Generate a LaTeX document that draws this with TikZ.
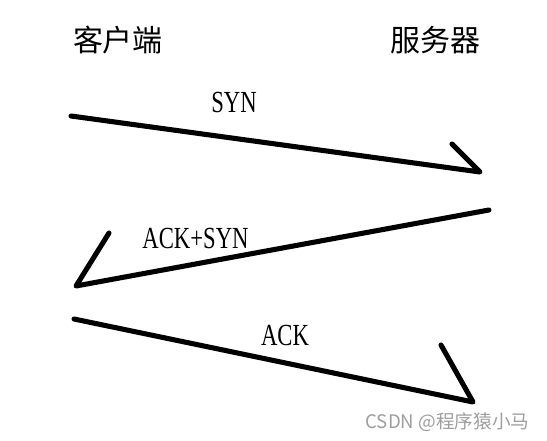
\documentclass[tikz,border=0pt]{standalone}
\usepackage{fontspec}
\setmainfont{Liberation Serif}
\newfontfamily\cjk{Noto Sans CJK SC}
\begin{document}
\begin{tikzpicture}[x=0.75pt,y=-0.75pt,
  msg/.style={line width=3.8pt,line cap=round,line join=round},
  party/.style={inner sep=0pt,font=\cjk\fontsize{22.5}{22.5}\selectfont},
  lbl/.style={inner sep=0pt,xscale=0.74,font=\fontsize{23}{23}\selectfont},
  wmark/.style={inner sep=0pt,text=black!38,font=\cjk\fontsize{14}{14}\selectfont}]
\useasboundingbox (0,0) rectangle (547,441);
\node[party] (client) at (118,40) {客户端};
\node[party] (server) at (435,40) {服务器};
\coordinate (s1) at (71,116);
\coordinate (e1) at (480,172);
\coordinate (h1) at (452,144);
\coordinate (s2) at (489,210);
\coordinate (e2) at (76,286);
\coordinate (h2) at (109,233);
\coordinate (s3) at (74,319);
\coordinate (e3) at (473,402);
\coordinate (h3) at (441,345);
\draw[msg] (s1) -- (e1) -- (h1);
\draw[msg] (s2) -- (e2) -- (h2);
\draw[msg] (s3) -- (e3) -- (h3);
\node[lbl] (syn) at (234,103) {SYN};
\node[lbl] (acksyn) at (195.5,238.5) {ACK+SYN};
\node[lbl] (ack) at (285,336) {ACK};
\node[wmark] (wm) at (447.5,422) {CSDN @程序猿小马};
\end{tikzpicture}
\end{document}
